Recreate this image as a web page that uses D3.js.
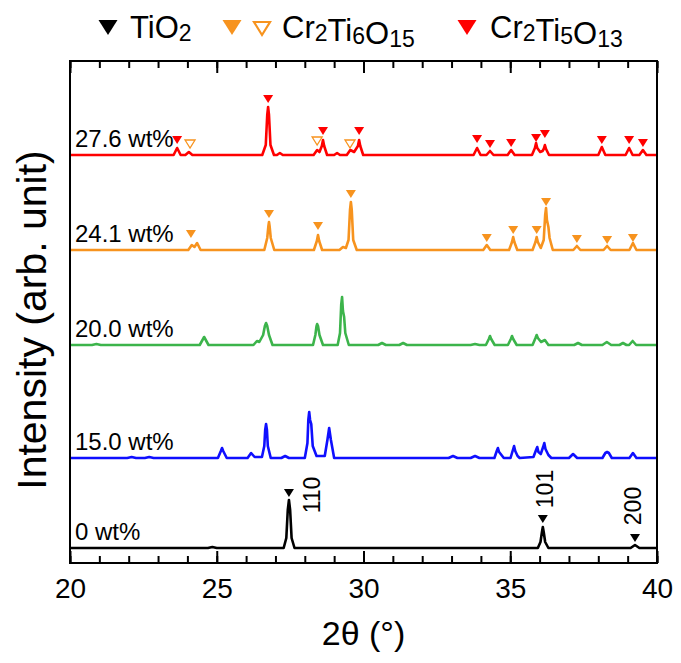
<!DOCTYPE html>
<html>
<head>
<meta charset="utf-8">
<script src="https://cdn.jsdelivr.net/npm/d3@7"></script>
<style>
  body { margin: 0; background: #fff; }
  svg { font-family: "Liberation Sans", Arial, sans-serif; }
</style>
</head>
<body>
<svg id="chart"></svg>
<script>
// XRD patterns, 2theta (deg) vs intensity (arb. unit) above each trace's own baseline
const samples = ["0 wt%", "15.0 wt%", "20.0 wt%", "24.1 wt%", "27.6 wt%"];
const offsets = [15, 105, 218, 313, 408];

const pattern0 = [
  [20,0],[24.7,0],[24.85,1],[25.0,0],
  [27.28,0],[27.37,10],[27.42,38],[27.46,48],[27.5,38],[27.55,10],[27.65,0],
  [35.94,0],[36.03,6],[36.08,16],[36.11,21],[36.14,16],[36.19,6],[36.3,0],
  [39.1,0],[39.25,3],[39.4,0],
  [40,0]
];
const pattern150 = [
  [20,0],[21.95,0],[22.1,1],[22.25,0],[22.55,0],[22.7,1],[22.85,0],
  [25.04,0],[25.14,7],[25.18,10],[25.22,7],[25.34,0],
  [26.05,0],[26.17,5],[26.29,1],
  [26.54,1],[26.62,12],[26.65,28],[26.68,34],[26.71,28],[26.74,12],[26.84,0],
  [27.2,0],[27.33,2],[27.46,0],
  [28.0,0],[28.09,15],[28.12,38],[28.15,46],[28.18,38],[28.22,34],[28.27,12],[28.4,2],
  [28.68,2],[28.77,18],[28.83,30],[28.89,18],[29.0,0],
  [32.9,0],[33.05,2],[33.2,0],[33.65,0],[33.8,2],[33.95,0],
  [34.46,0],[34.54,7],[34.58,10],[34.62,6],[34.7,3],[34.78,0],
  [35.01,0],[35.09,8],[35.13,12],[35.17,7],[35.25,2],[35.32,0],
  [35.79,1],[35.88,8],[35.92,11],[35.96,6],[36.04,4],[36.12,11],[36.16,15],[36.2,9],[36.3,3],[36.4,0],
  [37.0,0],[37.14,4],[37.28,0],
  [38.14,0],[38.24,5],[38.3,6],[38.36,5],[38.46,0],
  [39.06,0],[39.18,5],[39.3,0],
  [40,0]
];
const pattern200 = [
  [20,0],[20.75,0],[20.9,1],[21.05,0],
  [24.42,0],[24.57,8],[24.72,0],
  [26.25,0],[26.37,4],[26.45,3],[26.58,10],[26.64,19],[26.68,22],[26.72,19],[26.78,10],[26.9,0],
  [28.28,0],[28.36,10],[28.4,19],[28.42,21],[28.45,19],[28.5,10],[28.62,0],
  [29.12,0],[29.2,12],[29.24,40],[29.27,48],[29.3,34],[29.34,28],[29.38,12],[29.5,0],
  [30.5,0],[30.63,2],[30.76,0],
  [31.22,0],[31.35,2],[31.48,0],
  [33.65,0],[33.8,1],[33.95,0],
  [34.17,0],[34.27,6],[34.31,9],[34.35,6],[34.47,0],
  [34.92,0],[35.02,6],[35.06,9],[35.1,6],[35.22,0],
  [35.76,0],[35.86,7],[35.9,10],[35.94,7],[36.05,3],[36.18,5],[36.3,0],
  [37.18,0],[37.31,2],[37.44,0],
  [38.14,0],[38.29,3],[38.44,0],
  [38.72,0],[38.84,2],[38.96,0],[39.05,0],[39.17,4],[39.29,0],
  [40,0]
];
const pattern241 = [
  [20,0],[24.03,0],[24.15,5],[24.24,3],[24.33,7],[24.45,0],
  [26.62,0],[26.72,12],[26.76,24],[26.78,28],[26.8,24],[26.84,12],[26.96,0],
  [28.31,0],[28.41,9],[28.45,15],[28.49,9],[28.59,0],
  [29.18,0],[29.3,3],[29.4,2],[29.49,10],[29.54,40],[29.57,48],[29.6,40],[29.65,10],[29.77,0],
  [34.08,0],[34.2,5],[34.32,0],
  [34.96,0],[35.06,8],[35.1,13],[35.14,8],[35.24,0],
  [35.76,0],[35.86,8],[35.9,13],[35.94,8],[36.04,2],[36.14,10],[36.19,35],[36.22,42],[36.25,30],[36.3,23],[36.34,12],[36.45,0],
  [37.15,0],[37.27,4],[37.39,0],
  [38.18,0],[38.3,4],[38.42,0],
  [39.06,0],[39.18,7],[39.3,0],
  [40,0]
];
const pattern276 = [
  [20,0],[23.53,0],[23.65,7],[23.77,0],[23.93,0],[24.05,3],[24.17,0],
  [26.55,0],[26.67,10],[26.72,40],[26.75,48],[26.78,40],[26.83,10],[26.95,0],
  [27.05,0],[27.15,2],[27.25,0],
  [28.3,0],[28.42,5],[28.5,3],[28.58,9],[28.62,15],[28.66,9],[28.76,0],
  [29.0,0],[29.1,2],[29.2,0],
  [29.43,0],[29.55,5],[29.68,3],[29.81,9],[29.85,15],[29.89,9],[29.99,0],
  [33.75,0],[33.87,7],[33.99,0],
  [34.19,0],[34.31,4],[34.43,0],
  [34.91,0],[35.03,5],[35.15,0],
  [35.74,0],[35.84,7],[35.88,12],[35.92,7],[36.02,3],[36.1,4],[36.14,6],[36.18,10],[36.22,6],[36.32,0],
  [38.0,0],[38.12,8],[38.24,0],
  [38.93,0],[39.05,7],[39.17,0],
  [39.4,0],[39.52,5],[39.64,0],
  [40,0]
];
const patterns = [pattern0, pattern150, pattern200, pattern241, pattern276];

// phase markers: [2theta, level of the marker tip above the trace baseline]
const tio2Marks = [[27.46, 51], [36.11, 25], [39.25, 6]];
const hklLabels = ["110", "101", "200"];
const hklAt = [[28.25, 53], [36.18, 59], [39.18, 42]];
const cr2ti6Filled = [[24.12,12],[26.78,32],[28.45,20],[29.57,52],[34.2,8],[35.1,16],[35.9,16],[36.22,44],[37.27,7],[38.3,6],[39.18,8]];
const cr2ti6Open = [[24.09,7],[28.42,10],[29.54,7]];
const cr2ti5Filled = [[23.65,11],[26.75,52],[28.62,20],[29.85,20],[33.87,12],[34.31,7],[35.03,8],[35.88,13],[36.18,17],[38.12,11],[39.05,11],[39.52,8]];

const majorTicks = [20, 25, 30, 35, 40];
const minorTicks = d3.range(20, 41, 1);

const colorMap = ["#000000", "#0f0fff", "#3cb44b", "#f7931e", "#ff0000"];

const W = 681, H = 663;
const plot = { left: 70, right: 657, top: 61, bottom: 563 };

const svg = d3.select("#chart").attr("width", W).attr("height", H);

const x = d3.scaleLinear().domain([20, 40]).range([plot.left, plot.right]);
const y = d3.scaleLinear().domain([0, 502]).range([plot.bottom, plot.top]);

// minor ticks bottom and top
svg.append("g")
  .attr("transform", `translate(0,${plot.bottom})`)
  .call(d3.axisBottom(x).tickValues(minorTicks).tickSize(-7).tickFormat(""))
  .call((g) => g.select(".domain").remove());
svg.append("g")
  .attr("transform", `translate(0,${plot.top})`)
  .call(d3.axisTop(x).tickValues(minorTicks).tickSize(-7).tickFormat(""))
  .call((g) => g.select(".domain").remove());

// major ticks with labels
const xAxis = svg.append("g")
  .attr("transform", `translate(0,${plot.bottom})`)
  .call(d3.axisBottom(x).tickValues(majorTicks).tickSize(-12).tickPadding(15).tickFormat(d3.format("d")))
  .call((g) => g.select(".domain").remove());
xAxis.selectAll("text")
  .attr("font-family", "Liberation Sans, Arial, sans-serif")
  .attr("font-size", 28)
  .attr("fill", "#000");
svg.append("g")
  .attr("transform", `translate(0,${plot.top})`)
  .call(d3.axisTop(x).tickValues(majorTicks).tickSize(-12).tickFormat(""))
  .call((g) => g.select(".domain").remove());
svg.selectAll(".tick line").attr("stroke", "#000").attr("stroke-width", 2);

// traces
const line = d3.line()
  .x((d) => x(d[0]))
  .y((d) => y(d[1]));

patterns.forEach((p, i) => {
  svg.append("path")
    .datum(p.map((d) => [d[0], d[1] + offsets[i]]))
    .attr("fill", "none")
    .attr("stroke", colorMap[i])
    .attr("stroke-width", 2.6)
    .attr("stroke-linejoin", "round")
    .attr("d", line);

  svg.append("text")
    .attr("x", x(20.17))
    .attr("y", y(offsets[i]) - 8)
    .attr("font-size", 24)
    .text(samples[i]);
});

// marker triangles, tip pointing down
const tri = (w, h) => `M${-w / 2},${-h}L${w / 2},${-h}L0,0Z`;

function addMarks(list, series, fill, stroke) {
  svg.append("g")
    .selectAll("path")
    .data(list)
    .enter()
    .append("path")
    .attr("transform", (d) => `translate(${x(d[0])},${y(d[1] + offsets[series])})`)
    .attr("d", tri(10, 8))
    .attr("fill", fill)
    .attr("stroke", stroke)
    .attr("stroke-width", stroke === "none" ? 0 : 1.3);
}

addMarks(tio2Marks, 0, "#000", "none");
addMarks(cr2ti6Filled, 3, colorMap[3], "none");
addMarks(cr2ti6Open, 4, "#fff", colorMap[3]);
addMarks(cr2ti5Filled, 4, colorMap[4], "none");

svg.append("g")
  .selectAll("text")
  .data(hklLabels)
  .enter()
  .append("text")
  .attr("transform", (d, i) => `translate(${x(hklAt[i][0])},${y(hklAt[i][1] + offsets[0])}) rotate(-90)`)
  .attr("text-anchor", "middle")
  .attr("dominant-baseline", "central")
  .attr("font-size", 23)
  .text((d) => d);

// frame
svg.append("rect")
  .attr("x", plot.left)
  .attr("y", plot.top)
  .attr("width", plot.right - plot.left)
  .attr("height", plot.bottom - plot.top)
  .attr("fill", "none")
  .attr("stroke", "#000")
  .attr("stroke-width", 2);

// axis titles
svg.append("text")
  .attr("x", (plot.left + plot.right) / 2)
  .attr("y", 645)
  .attr("text-anchor", "middle")
  .attr("font-size", 34)
  .text("2θ (°)");

svg.append("text")
  .attr("transform", `translate(46,${(plot.top + plot.bottom) / 2 + 8}) rotate(-90)`)
  .attr("text-anchor", "middle")
  .attr("font-size", 41)
  .text("Intensity (arb. unit)");

// legend
const legendItems = [
  { marks: [{ cx: 108, fill: "#000", stroke: "none" }], parts: [["TiO", "2"]], tx: 130 },
  { marks: [{ cx: 232, fill: colorMap[3], stroke: "none" }, { cx: 262, fill: "#fff", stroke: colorMap[3] }],
    parts: [["Cr", "2"], ["Ti", "6"], ["O", "15"]], tx: 282 },
  { marks: [{ cx: 467, fill: colorMap[4], stroke: "none" }], parts: [["Cr", "2"], ["Ti", "5"], ["O", "13"]], tx: 490 },
];

const legend = svg.append("g");
legendItems.forEach((item) => {
  item.marks.forEach((m) => {
    legend.append("path")
      .attr("transform", `translate(${m.cx},35)`)
      .attr("d", m.stroke === "none" ? tri(19, 15) : tri(16, 13))
      .attr("fill", m.fill)
      .attr("stroke", m.stroke)
      .attr("stroke-width", m.stroke === "none" ? 0 : 2.2);
  });
  const t = legend.append("text").attr("x", item.tx).attr("y", 38).attr("font-size", 31);
  item.parts.forEach(([main, sub]) => {
    t.append("tspan").attr("dy", 0).text(main);
    t.append("tspan").attr("font-size", 23).attr("dy", 3).text(sub);
    t.append("tspan").attr("font-size", 31).attr("dy", -3).text("");
  });
});
</script>
</body>
</html>
